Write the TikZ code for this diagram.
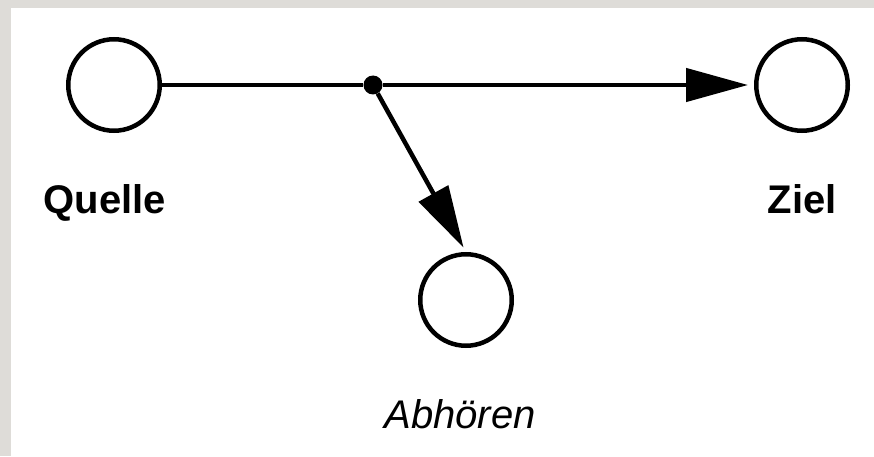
\documentclass[tikz,border=0pt]{standalone}
\usepackage{fontspec}
\setmainfont{Liberation Sans}
\usetikzlibrary{arrows.meta}
\definecolor{framegray}{RGB}{222,220,216}
\begin{document}
\begin{tikzpicture}[x=1pt,y=1pt,
    station/.style={draw,circle,line width=4.5pt,minimum size=91.5pt,inner sep=0pt},
    label/.style={anchor=base,font=\fontsize{40}{48}\selectfont\bfseries},
    flow/.style={line width=4.5pt,-{Triangle[length=62pt,width=33pt]}}]
    \fill[framegray] (0,0) rectangle (874,456);
    \fill[white] (11,0) rectangle (874,448);
    \useasboundingbox (0,0) rectangle (874,456);
    \node[station] (Q) at (114,371) {};
    \node[station] (Z) at (802,371) {};
    \node[station] (A) at (466,156) {};
    \node[circle,fill,inner sep=0pt,minimum size=19pt] (tap) at (373,371) {};
    \node[label] (lQ) at (105,243) {Quelle};
    \node[label] (lZ) at (802,243) {Ziel};
    \node[label,font=\fontsize{40}{48}\selectfont\itshape] (lA) at (460,28) {Abhören};
    \draw[line width=4.5pt] (Q) -- (tap);
    \draw[flow,shorten >=6pt] (tap) -- (Z);
    \draw[flow,shorten >=5pt] (tap) -- (A.north);
\end{tikzpicture}
\end{document}
